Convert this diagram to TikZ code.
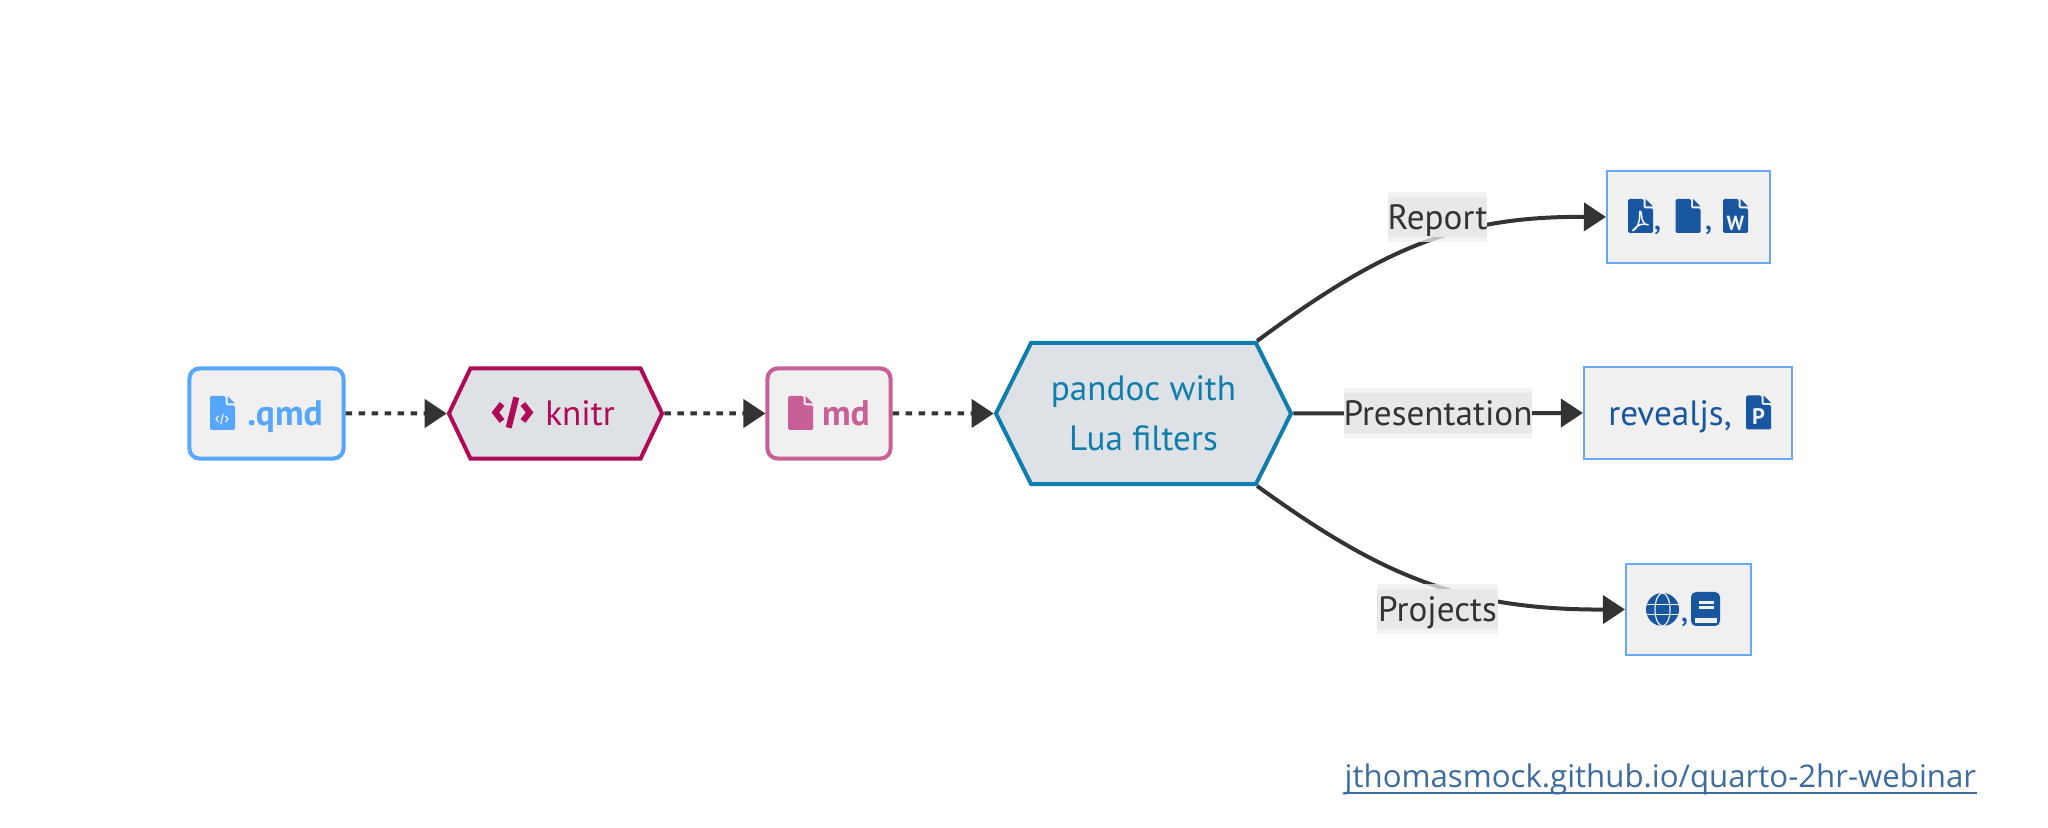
\documentclass[tikz,border=0pt]{standalone}
\usepackage{fontspec}
\setmainfont{PT Sans}
\newfontfamily\urlfont{Open Sans}
\usetikzlibrary{arrows.meta,shapes.symbols}
\definecolor{boxgray}{HTML}{F0F0F0}
\definecolor{hexgray}{HTML}{DEE2E6}
\definecolor{inkgray}{HTML}{333333}
\definecolor{qmdblue}{HTML}{56A6FB}
\definecolor{knitrred}{HTML}{AF0A56}
\definecolor{mdpink}{HTML}{C85F96}
\definecolor{pandocblue}{HTML}{0F7EAD}
\definecolor{outblue}{HTML}{1856A0}
\definecolor{outline}{HTML}{68A8F5}
\definecolor{urlblue}{HTML}{3F6C9E}
\tikzset{
    srcbox/.style={draw,fill=boxgray,rounded corners=.1cm,line width=.04cm,inner sep=0pt,minimum height=.9cm,
        text height=.3cm,text depth=.06cm,font=\fontsize{10.1}{12}\selectfont\bfseries},
    toolhex/.style={draw,fill=hexgray,shape=signal,signal to=west and east,line width=.04cm,inner sep=0pt},
    outbox/.style={draw=outline,fill=boxgray,line width=.02cm,inner sep=0pt,minimum height=.91cm,text=outblue,
        text height=.3cm,text depth=.06cm,font=\fontsize{10}{12}\selectfont},
    dotflow/.style={draw=inkgray,line width=.04cm,dash pattern=on .065cm off .065cm,
        -{Triangle[length=.22cm,width=.28cm]}},
    solidflow/.style={draw=inkgray,line width=.04cm,-{Triangle[length=.22cm,width=.28cm]}},
    edgeband/.style={fill=boxgray,fill opacity=.75,inner sep=0pt,minimum height=.5cm},
    edgelabel/.style={fill=black!9,text=inkgray,inner sep=0pt,minimum height=.4cm,
        text height=.3cm,text depth=.06cm,font=\fontsize{10}{12}\selectfont},
    iconletter/.style={text=boxgray,inner sep=0pt,font=\fontsize{5.8}{7}\selectfont\bfseries},
    fileglyph/.pic={
        \fill[pic actions,rounded corners=.015cm] (-12.5,-17) -- (3,-17) -- (3,-7.5) -- (12.5,-7.5) -- (12.5,17) -- (-12.5,17) -- cycle;
        \fill[pic actions] (5,-17) -- (12.5,-9.5) -- (5,-9.5) -- cycle;
    },
    codeglyph/.pic={
        \draw[pic actions] (-11,-9) -- (-18,0) -- (-11,9);
        \draw[pic actions] (11,-9) -- (18,0) -- (11,9);
        \draw[pic actions] (4,-16) -- (-4,16);
    },
    pdfglyph/.pic={
        \draw[pic actions] (-8,13) .. controls (-3,11) and (0,2) .. (-1,-5) .. controls (-1,-8) and (1,-7) .. (1,-3)
            .. controls (1,3) and (4,7) .. (8,7) .. controls (3,5) and (-3,6) .. (-8,13);
    },
    globeglyph/.pic={
        \fill[pic actions] (0,0) circle (.165cm);
        \draw[boxgray,line width=.012cm] (0,0) ellipse (.075cm and .165cm);
        \draw[boxgray,line width=.012cm] (-16,-5) -- (16,-5) (-16,5) -- (16,5);
    },
    bookglyph/.pic={
        \fill[pic actions,rounded corners=.05cm] (-14.5,-17) rectangle (14.5,17);
        \fill[boxgray] (-10.5,8.7) rectangle (11,13.7);
        \fill[boxgray] (-6.5,-8) rectangle (8.5,-5);
        \fill[boxgray] (-6.5,-3) rectangle (8.5,0);
    }
}

\begin{document}
\begin{tikzpicture}[x=.01cm,y=-.01cm]
    \path[use as bounding box,fill=white] (0,0) rectangle (2048,828);

    % first row
    \node[srcbox,draw=qmdblue,text=qmdblue,minimum width=1.54cm] (qmd) at (266.5,413.5) {\hspace*{.37cm}.qmd};
    \node[toolhex,draw=knitrred,text=knitrred,minimum width=2.13cm,minimum height=.9cm,signal pointer angle=129,
        font=\fontsize{10}{12}\selectfont,text height=.3cm,text depth=.06cm] (knitr) at (555.5,413.5) {\hspace*{.49cm}knitr};
    \node[srcbox,draw=mdpink,text=mdpink,minimum width=1.23cm] (md) at (829,413.5) {\hspace*{.34cm}md};
    \node[toolhex,draw=pandocblue,text=pandocblue,minimum width=2.95cm,minimum height=1.41cm,signal pointer angle=127,
        align=center,font=\fontsize{10}{14.2}\selectfont] (pandoc) at (1143.5,413.5) {pandoc with\\Lua filters};

    % outputs
    \node[outbox,minimum width=1.63cm] (report) at (1688.5,217) {,\hspace*{.43cm},\hspace*{.11cm}};
    \node[outbox,minimum width=2.08cm] (reveal) at (1688,413) {revealjs,\hspace*{.36cm}};
    \node[outbox,minimum width=1.25cm] (projects) at (1688.5,609.5) {,\hspace*{.08cm}};

    % icons
    \pic[fill=qmdblue] at (222.5,413) {fileglyph};
    \pic[draw=boxgray,line width=.012cm,scale=.33] at (222,419) {codeglyph};
    \pic[draw=knitrred,line width=.06cm,scale=.95] at (512.5,412.5) {codeglyph};
    \pic[fill=mdpink] at (800.5,413) {fileglyph};
    \pic[fill=outblue] at (1640.5,216) {fileglyph};
    \pic[draw=boxgray,line width=.015cm] at (1640.5,218) {pdfglyph};
    \pic[fill=outblue] at (1688,216) {fileglyph};
    \pic[fill=outblue] at (1735.5,216) {fileglyph};
    \node[iconletter] (wordw) at (1735.5,223) {W};
    \pic[fill=outblue] at (1758.5,412.5) {fileglyph};
    \node[iconletter,font=\fontsize{6.4}{7}\selectfont\bfseries] (pptp) at (1758.5,417) {P};
    \pic[fill=outblue] at (1662.5,609.5) {globeglyph};
    \pic[fill=outblue] at (1705.5,609) {bookglyph};

    % connectors
    \draw[dotflow] (qmd) -- (knitr);
    \draw[dotflow] (knitr) -- (md);
    \draw[dotflow] (md) -- (pandoc);
    \draw[solidflow] (pandoc.north east) .. controls (1380,250) and (1455,216) .. (report.west);
    \draw[solidflow] (pandoc.east) -- (reveal.west);
    \draw[solidflow] (pandoc.south east) .. controls (1380,575) and (1460,610) .. (projects.west);

    % edge labels
    \node[edgeband,minimum width=.99cm] (reportband) at (1437.5,217) {};
    \node[edgelabel,minimum width=.99cm] (reportlabel) at (1437.5,217) {Report};
    \node[edgeband,minimum width=1.88cm] (revealband) at (1438,413) {};
    \node[edgelabel,minimum width=1.88cm] (reveallabel) at (1438,413) {Presentation};
    \node[edgeband,minimum width=1.21cm] (projectsband) at (1437.5,609) {};
    \node[edgelabel,minimum width=1.21cm] (projectslabel) at (1437.5,609) {Projects};

    % link at the bottom
    \node[anchor=base west,inner sep=0pt,text=urlblue,font=\urlfont\fontsize{8.87}{10}\selectfont] (weblink) at (1344,788) {jthomasmock.github.io/quarto-2hr-webinar};
    \draw[urlblue,line width=.025cm] ([yshift=-.05cm]weblink.base west) -- ([yshift=-.05cm]weblink.base east);
\end{tikzpicture}
\end{document}
